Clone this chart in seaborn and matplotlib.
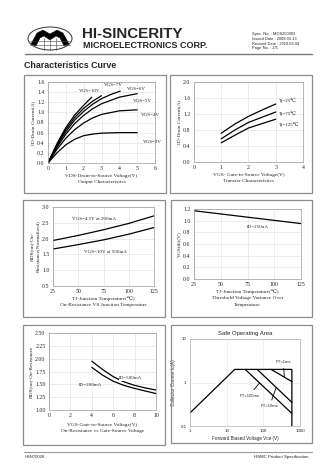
import matplotlib
matplotlib.use("Agg")
import matplotlib.pyplot as plt
import numpy as np
import pandas as pd
import seaborn as sns
from matplotlib.patches import Rectangle, Ellipse, Polygon
from matplotlib.lines import Line2D

# ---------------- data ----------------
# 1) Output characteristics
oc_labels = ["VGS=10V", "VGS=7V", "VGS=6V", "VGS=5V", "VGS=4V", "VGS=3V"]
oc_vds_10 = [0, 0.5, 1.0, 1.5, 2.0, 2.45]
oc_id_10 = [0, 0.38, 0.70, 0.95, 1.14, 1.30]
oc_vds_7 = [0, 0.5, 1.0, 1.5, 2.0, 2.5, 3.0]
oc_id_7 = [0, 0.36, 0.66, 0.90, 1.08, 1.22, 1.33]
oc_vds_6 = [0, 0.5, 1.0, 1.5, 2.0, 2.5, 3.0, 3.5, 4.05]
oc_id_6 = [0, 0.34, 0.62, 0.85, 1.02, 1.16, 1.27, 1.35, 1.42]
oc_vds_5 = [0, 0.5, 1.0, 1.5, 2.0, 2.5, 3.0, 4.0, 5.0]
oc_id_5 = [0, 0.31, 0.57, 0.78, 0.94, 1.07, 1.17, 1.30, 1.37]
oc_vds_4 = [0, 0.5, 1.0, 1.5, 2.0, 2.5, 3.0, 4.0, 5.0]
oc_id_4 = [0, 0.27, 0.49, 0.66, 0.79, 0.89, 0.96, 1.03, 1.05]
oc_vds_3 = [0, 0.5, 1.0, 1.5, 2.0, 2.5, 3.0, 4.0, 5.0]
oc_id_3 = [0, 0.20, 0.36, 0.47, 0.54, 0.57, 0.59, 0.60, 0.60]

# 2) Transfer characteristics
tc_labels = ["Tj=25℃", "Tj=75℃", "Tj=125℃"]
tc_vgs = [1.0, 1.5, 2.0, 2.5, 3.0]
tc_id_25 = [0.72, 0.95, 1.14, 1.30, 1.45]
tc_id_75 = [0.58, 0.80, 0.99, 1.12, 1.25]
tc_id_125 = [0.48, 0.67, 0.85, 0.96, 1.07]

# 3) On-resistance vs junction temperature
rt_labels = ["VGS=4.5V at 200mA", "VGS=10V at 500mA"]
rt_tj = [25, 50, 75, 100, 125]
rt_r_45 = [1.94, 2.10, 2.28, 2.48, 2.72]
rt_r_10 = [1.67, 1.81, 1.96, 2.14, 2.35]

# 4) Threshold voltage variance
vt_label = "ID=250uA"
vt_tj = [25, 75, 125]
vt_norm = [1.17, 1.06, 0.95]

# 5) On-resistance vs gate-source voltage
rv_labels = ["ID=500mA", "ID=200mA"]
rv_vgs = [4, 5, 6, 7, 8, 9, 10]
rv_r_500 = [1.95, 1.79, 1.65, 1.55, 1.48, 1.43, 1.39]
rv_r_200 = [1.83, 1.68, 1.56, 1.48, 1.42, 1.37, 1.32]

# 6) Safe operating area
soa_labels = ["PT=1ms", "PT=10ms", "PT=100ms"]
soa_env_v = [1, 16.6, 600, 600]
soa_env_i = [0.2, 2.0, 2.0, 0.1]
soa_100ms_v = [32, 600]
soa_100ms_i = [2.0, 0.195]
soa_10ms_v = [68, 600]
soa_10ms_i = [2.0, 0.35]
soa_1ms_v = [163, 600]
soa_1ms_i = [2.0, 1.05]

# ---------------- figure ----------------
sns.set_style("white")
SERIF = ['Liberation Serif', 'DejaVu Serif']
SANS = ['Liberation Sans', 'DejaVu Sans']
plt.rcParams['font.family'] = SERIF
plt.rcParams['axes.unicode_minus'] = False

W, H = 336, 475
fig = plt.figure(figsize=(W / 100, H / 100), dpi=100)
fig.patch.set_facecolor('white')


def rect(x0, y0, x1, y1):
    return [x0 / W, 1 - y1 / H, (x1 - x0) / W, (y1 - y0) / H]


def box(x0, y0, x1, y1, color='#8c8c8c', lw=0.9):
    fig.add_artist(Rectangle((x0 / W, 1 - y1 / H), (x1 - x0) / W, (y1 - y0) / H,
                             transform=fig.transFigure, fill=False, ec=color, lw=lw))


def style_ax(ax, fs=4.2):
    ax.grid(True, color='#dedede', lw=0.4)
    for s in ax.spines.values():
        s.set_color('#9a9a9a')
        s.set_linewidth(0.5)
    ax.tick_params(labelsize=fs, length=0, pad=2.5)


def long_df(xs, ys, names, xn, yn):
    frames = []
    for x, y, n in zip(xs, ys, names):
        frames.append(pd.DataFrame({xn: x, yn: y, 'series': n}))
    return pd.concat(frames, ignore_index=True)


LW = 0.9
FS_LAB = 3.9
FS_ANN = 3.6

# panel boxes
box(24, 75, 166, 193)
box(170, 75, 312, 193)
box(23, 200, 165, 317)
box(171, 200, 312, 317)
box(23, 325, 165, 445)
box(171, 325, 312, 443)

# ---- chart 1
ax1 = fig.add_axes(rect(48, 82, 155, 163))
df1 = long_df([oc_vds_10, oc_vds_7, oc_vds_6, oc_vds_5, oc_vds_4, oc_vds_3],
              [oc_id_10, oc_id_7, oc_id_6, oc_id_5, oc_id_4, oc_id_3],
              oc_labels, 'vds', 'id')
sns.lineplot(data=df1, x='vds', y='id', hue='series', palette=['black'] * 6,
             estimator=None, sort=False, legend=False, lw=LW, ax=ax1)
ax1.set_xlim(0, 6)
ax1.set_ylim(0, 1.6)
ax1.set_xticks(range(0, 7))
ax1.set_yticks(np.arange(0, 1.61, 0.2))
ax1.set_yticklabels([f"{v:.1f}" for v in np.arange(0, 1.61, 0.2)])
style_ax(ax1)
ax1.set_xlabel("VDS-Drain-to-Source Voltage(V)\nOutput Characteristics", fontsize=FS_LAB, labelpad=1.5, linespacing=1.7)
ax1.set_ylabel("ID-Drain Current(A)", fontsize=FS_LAB, labelpad=1.5)
for lab, (x, y) in zip(oc_labels, [(1.75, 1.42), (3.15, 1.54), (4.45, 1.46), (4.75, 1.22), (5.2, 0.95), (5.3, 0.42)]):
    ax1.text(x, y, lab, fontsize=FS_ANN, va='center', ha='left')

# ---- chart 2
ax2 = fig.add_axes(rect(194, 82, 303, 162))
df2 = long_df([tc_vgs] * 3, [tc_id_25, tc_id_75, tc_id_125], tc_labels, 'vgs', 'id')
sns.lineplot(data=df2, x='vgs', y='id', hue='series', palette=['black'] * 3,
             estimator=None, sort=False, legend=False, lw=LW, ax=ax2)
ax2.set_xlim(0, 4)
ax2.set_ylim(0, 2.0)
ax2.set_xticks(range(0, 5))
ax2.set_yticks(np.arange(0, 2.01, 0.4))
ax2.set_yticklabels([f"{v:.1f}" for v in np.arange(0, 2.01, 0.4)])
style_ax(ax2)
ax2.set_xlabel("VGS- Gate-to-Source Voltage(V)\nTransfer Characteristics", fontsize=FS_LAB, labelpad=1.5, linespacing=1.7)
ax2.set_ylabel("ID-Drain Current(A)", fontsize=FS_LAB, labelpad=1.5)
for lab, (x, y) in zip(tc_labels, [(3.1, 1.53), (3.1, 1.21), (3.1, 0.93)]):
    ax2.text(x, y, lab, fontsize=FS_ANN, va='center', ha='left')

# ---- chart 3
ax3 = fig.add_axes(rect(53, 207, 154, 286))
df3 = long_df([rt_tj] * 2, [rt_r_45, rt_r_10], rt_labels, 'tj', 'r')
sns.lineplot(data=df3, x='tj', y='r', hue='series', palette=['black'] * 2,
             estimator=None, sort=False, legend=False, lw=LW, ax=ax3)
ax3.set_xlim(25, 125)
ax3.set_ylim(0.5, 3.0)
ax3.set_xticks([25, 50, 75, 100, 125])
ax3.set_yticks(np.arange(0.5, 3.01, 0.5))
ax3.set_yticklabels([f"{v:.1f}" for v in np.arange(0.5, 3.01, 0.5)])
style_ax(ax3)
ax3.set_xlabel("TJ-Junction Temperature(℃)\nOn-Resistance VS.Junction Temperature", fontsize=FS_LAB, labelpad=1.5, linespacing=1.7)
ax3.set_ylabel("RDS(on)-On-\nResistance(Normalized)", fontsize=FS_LAB, labelpad=1.5, linespacing=1.6)
ax3.text(44, 2.63, rt_labels[0], fontsize=FS_ANN, va='center', ha='left')
ax3.text(56, 1.59, rt_labels[1], fontsize=FS_ANN, va='center', ha='left')

# ---- chart 4
ax4 = fig.add_axes(rect(194, 209, 301, 279))
df4 = pd.DataFrame({'tj': vt_tj, 'v': vt_norm})
sns.lineplot(data=df4, x='tj', y='v', color='black', estimator=None, sort=False, lw=LW, ax=ax4)
ax4.set_xlim(25, 125)
ax4.set_ylim(0, 1.2)
ax4.set_xticks([25, 50, 75, 100, 125])
ax4.set_yticks(np.arange(0, 1.21, 0.2))
ax4.set_yticklabels([f"{v:.1f}" for v in np.arange(0, 1.21, 0.2)])
style_ax(ax4)
ax4.set_xlabel("TJ-Junction Temperature(℃)\nThreshold Voltage Variance Over\nTemperature", fontsize=FS_LAB, labelpad=1.5, linespacing=1.7)
ax4.set_ylabel("VGS(th)(V)", fontsize=FS_LAB, labelpad=1.5)
ax4.text(74, 0.89, vt_label, fontsize=FS_ANN, va='center', ha='left')

# ---- chart 5
ax5 = fig.add_axes(rect(49, 333, 156, 410))
df5 = long_df([rv_vgs] * 2, [rv_r_500, rv_r_200], rv_labels, 'vgs', 'r')
sns.lineplot(data=df5, x='vgs', y='r', hue='series', palette=['black'] * 2,
             estimator=None, sort=False, legend=False, lw=LW, ax=ax5)
ax5.set_xlim(0, 10)
ax5.set_ylim(1.0, 2.5)
ax5.set_xticks(range(0, 11, 2))
ax5.set_yticks(np.arange(1.0, 2.51, 0.25))
ax5.set_yticklabels([f"{v:.2f}" for v in np.arange(1.0, 2.51, 0.25)])
style_ax(ax5)
ax5.set_xlabel("VGS-Gate-to-Source Voltage(V)\nOn-Resistance vs Gate-Source Voltage", fontsize=FS_LAB, labelpad=3, linespacing=1.9)
ax5.set_ylabel("RDS(on)-On-Resistance", fontsize=FS_LAB, labelpad=1.5)
ax5.text(6.55, 1.62, rv_labels[0], fontsize=FS_ANN, va='center', ha='left',
         bbox=dict(fc='white', ec='none', pad=0.3))
ax5.text(2.8, 1.49, rv_labels[1], fontsize=FS_ANN, va='center', ha='left')

# ---- chart 6 (SOA)
ax6 = fig.add_axes(rect(190, 339, 300, 426))
df6 = long_df([soa_env_v, soa_100ms_v, soa_10ms_v, soa_1ms_v],
              [soa_env_i, soa_100ms_i, soa_10ms_i, soa_1ms_i],
              ["DC", "PT=100ms", "PT=10ms", "PT=1ms"], 'v', 'i')
sns.lineplot(data=df6, x='v', y='i', hue='series', palette=['black'] * 4,
             estimator=None, sort=False, legend=False, lw=LW, ax=ax6)
ax6.set_xscale('log')
ax6.set_yscale('log')
ax6.set_xlim(1, 1000)
ax6.set_ylim(0.1, 10)
ax6.set_xticks([1, 10, 100, 1000])
ax6.set_xticklabels(["1", "10", "100", "1000"], family=SANS)
ax6.set_yticks([0.1, 1, 10])
ax6.set_yticklabels(["0.1", "1", "10"], family=SANS)
ax6.minorticks_off()
ax6.grid(True, color='#e6e6e6', lw=0.4)
for s in ax6.spines.values():
    s.set_color('#b0b0b0')
    s.set_linewidth(0.5)
ax6.tick_params(labelsize=3.2, length=0, pad=2.5)
ax6.set_title("Safe Operating Area", fontsize=4.3, family=SANS, pad=3)
ax6.set_xlabel("Forward Biased Voltage Vce (V)", fontsize=3.3, family=SANS, labelpad=1.5)
ax6.set_ylabel("Collector Current Ic(A)", fontsize=3.3, family=SANS, labelpad=3)
ann = dict(arrowstyle='-', color='black', lw=0.6, shrinkA=0.5, shrinkB=0)
ax6.annotate("PT=1ms", xy=(375, 1.33), xytext=(215, 2.9), fontsize=3.0, family=SANS,
             ha='left', va='center', arrowprops=ann)
ax6.annotate("PT=100ms", xy=(79, 0.98), xytext=(22, 0.5), fontsize=3.0, family=SANS,
             ha='left', va='center', arrowprops=ann)
ax6.annotate("PT=10ms", xy=(224, 0.77), xytext=(85, 0.29), fontsize=3.0, family=SANS,
             ha='left', va='center', arrowprops=ann)

# ---------------- header / footer ----------------
fig.text(82 / W, 1 - 38.5 / H, "HI-SINCERITY", fontsize=10.9, weight='bold', family=SANS, va='baseline')
fig.text(83 / W, 1 - 48.5 / H, "MICROELECTRONICS CORP.", fontsize=6.5, weight='bold', family=SANS, va='baseline')
fig.text(24 / W, 1 - 68 / H, "Characteristics Curve", fontsize=6.4, weight='bold', family=SANS, va='baseline')
for i, t in enumerate(["Spec. No. : MOS200903", "Issued Date : 2009.03.13",
                       "Revised Date : 2010.03.04", "Page No. : 2/5"]):
    fig.text(252 / W, 1 - (35.5 + 4.6 * i) / H, t, fontsize=2.9, family=SANS, va='baseline')
fig.add_artist(Line2D([25 / W, 312 / W], [1 - 53.5 / H] * 2, transform=fig.transFigure, color='#7a7a7a', lw=1.0))
fig.add_artist(Line2D([24 / W, 312 / W], [1 - 452 / H] * 2, transform=fig.transFigure, color='#9a9a9a', lw=0.8))
fig.text(25 / W, 1 - 458 / H, "HSN7002K", fontsize=3.0, family=SANS, va='baseline')
fig.text(308 / W, 1 - 458 / H, "HSMC Product Specification", fontsize=3.2, family=SANS, va='baseline', ha='right')

# logo
def P(x, y):
    return (x / W, 1 - y / H)

fig.add_artist(Ellipse(P(50, 38.5), 44 / W, 23 / H, transform=fig.transFigure, fill=False, ec='#333', lw=0.7))
for yy in [41, 45]:
    fig.add_artist(Line2D([30 / W, 70 / W], [1 - yy / H] * 2, transform=fig.transFigure, color='#444', lw=0.4))
for xx in [44, 50, 56]:
    fig.add_artist(Line2D([xx / W] * 2, [1 - 38 / H, 1 - 49.5 / H], transform=fig.transFigure, color='#444', lw=0.4))
logo_pts = [(31, 44), (37, 33), (43, 30), (50, 34), (57, 30), (63, 33), (69, 44),
            (64, 46), (60, 38), (56, 36), (50, 40), (44, 36), (40, 38), (36, 46)]
fig.add_artist(Polygon([P(x, y) for x, y in logo_pts], closed=True, transform=fig.transFigure,
                       fc='black', ec='black', lw=0.3))

fig.savefig("out.png", dpi=100, facecolor='white')
